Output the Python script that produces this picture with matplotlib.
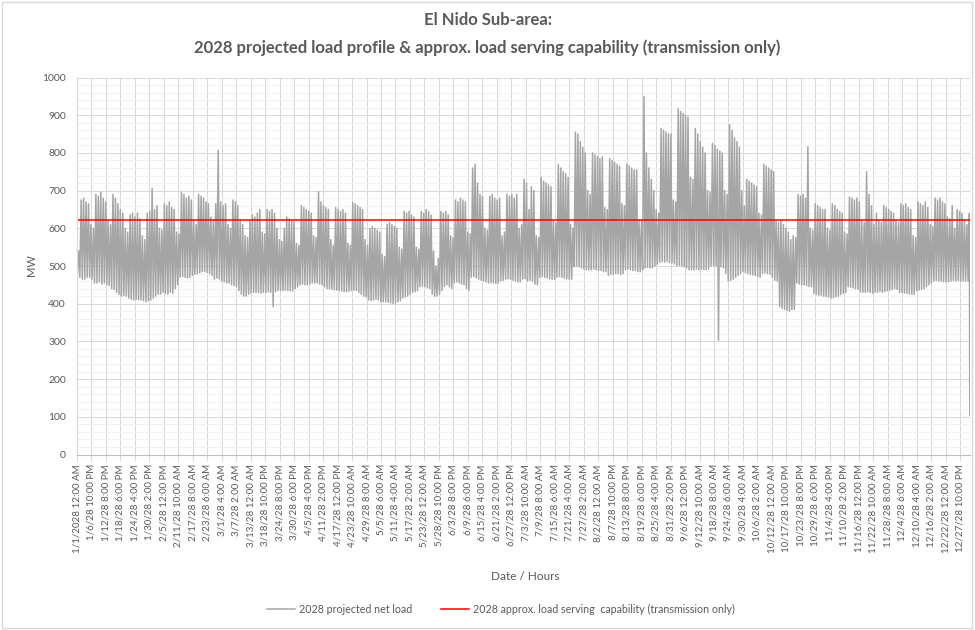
import matplotlib.pyplot as plt
import numpy as np
from matplotlib.patches import Rectangle
from matplotlib.ticker import MultipleLocator

plt.rcParams['font.family'] = ['Lato', 'DejaVu Sans']

# daily evening peak of the net load (MW), one row per week, Monday first
daily_peak = [
    540, 675, 680, 670, 665, 610, 600,
    690, 685, 695, 680, 670, 620, 610,
    690, 680, 665, 650, 640, 600, 590,
    635, 640, 630, 640, 625, 580, 570,
    640, 645, 706, 650, 660, 600, 595,
    665, 660, 670, 655, 650, 590, 585,
    695, 690, 680, 685, 675, 620, 610,
    690, 685, 680, 670, 665, 630, 620,
    665, 807, 670, 660, 665, 610, 600,
    675, 670, 660, 620, 610, 580, 575,
    620, 635, 630, 640, 650, 590, 585,
    650, 645, 650, 640, 600, 570, 565,
    600, 630, 625, 620, 618, 560, 555,
    660, 655, 650, 645, 640, 580, 575,
    697, 670, 660, 655, 650, 570, 555,
    655, 650, 645, 650, 640, 560, 555,
    668, 665, 660, 655, 650, 570, 555,
    600, 605, 600, 595, 590, 530, 525,
    610, 615, 610, 605, 600, 550, 545,
    645, 640, 645, 635, 630, 550, 545,
    645, 640, 650, 645, 635, 540, 500,
    520, 645, 640, 645, 635, 580, 575,
    675, 670, 680, 675, 670, 590, 585,
    760, 770, 720, 690, 685, 600, 595,
    685, 690, 680, 675, 680, 580, 590,
    690, 685, 690, 680, 690, 600, 610,
    730, 720, 650, 710, 700, 580, 575,
    735, 725, 720, 715, 710, 620, 615,
    770, 760, 750, 745, 735, 610, 600,
    855, 850, 830, 815, 800, 700, 690,
    800, 795, 790, 785, 790, 655, 650,
    785, 780, 775, 770, 765, 665, 660,
    770, 765, 760, 755, 755, 622, 620,
    949, 800, 760, 730, 700, 650, 640,
    865, 860, 855, 850, 850, 675, 670,
    917, 910, 905, 900, 895, 735, 730,
    865, 850, 830, 815, 800, 700, 695,
    825, 820, 810, 805, 800, 700, 690,
    875, 860, 840, 830, 815, 700, 659,
    730, 725, 720, 715, 710, 640, 635,
    770, 765, 760, 755, 750, 620, 615,
    620, 610, 600, 590, 570, 580, 575,
    690, 685, 690, 680, 816, 600, 595,
    665, 660, 655, 650, 650, 600, 595,
    665, 660, 650, 645, 640, 590, 585,
    683, 680, 675, 680, 670, 620, 615,
    750, 690, 660, 610, 640, 620, 615,
    660, 655, 650, 645, 640, 620, 615,
    665, 660, 665, 655, 650, 580, 575,
    670, 665, 660, 670, 655, 610, 605,
    680, 675, 680, 670, 665, 630, 625,
    660, 600, 650, 645, 640, 620, 610,
    640,
]

# daily early-morning minimum (MW)
daily_low = [
    480, 470, 465, 465, 470, 470, 465,
    455, 455, 458, 452, 455, 450, 448,
    440, 438, 430, 425, 420, 422, 420,
    415, 412, 410, 412, 410, 410, 408,
    405, 408, 410, 415, 420, 425, 425,
    430, 428, 425, 430, 428, 440, 450,
    470, 472, 470, 468, 470, 475, 478,
    480, 482, 485, 485, 483, 480, 475,
    465, 468, 465, 460, 458, 455, 455,
    450, 448, 445, 435, 425, 420, 420,
    425, 428, 430, 430, 430, 428, 430,
    430, 432, 430, 392, 432, 435, 435,
    435, 436, 435, 434, 434, 440, 445,
    450, 452, 450, 450, 452, 455, 455,
    455, 452, 450, 445, 440, 440, 438,
    437, 436, 435, 434, 432, 432, 433,
    435, 436, 435, 430, 425, 420, 418,
    410, 408, 410, 412, 410, 405, 405,
    405, 404, 402, 400, 402, 405, 408,
    415, 418, 420, 425, 430, 432, 435,
    445, 446, 445, 442, 440, 425, 420,
    420, 425, 435, 445, 450, 445, 440,
    455, 458, 455, 452, 450, 440, 435,
    470, 472, 468, 465, 462, 460, 458,
    455, 456, 455, 454, 455, 460, 462,
    465, 466, 465, 462, 460, 458, 458,
    465, 466, 460, 462, 460, 452, 450,
    470, 472, 470, 468, 466, 465, 465,
    470, 472, 470, 468, 466, 465, 465,
    498, 500, 498, 495, 492, 490, 490,
    490, 492, 490, 488, 488, 485, 485,
    475, 478, 478, 480, 480, 478, 480,
    490, 492, 490, 488, 488, 485, 485,
    490, 495, 497, 495, 495, 500, 505,
    510, 512, 510, 512, 510, 508, 505,
    500, 502, 500, 498, 495, 490, 490,
    490, 492, 490, 492, 490, 490, 492,
    500, 502, 500, 303, 498, 495, 480,
    460, 462, 465, 470, 475, 480, 485,
    482, 480, 478, 476, 475, 472, 470,
    480, 482, 480, 478, 470, 462, 460,
    392, 388, 385, 382, 380, 384, 385,
    455, 452, 450, 450, 448, 446, 445,
    427, 425, 423, 422, 420, 419, 418,
    415, 416, 418, 420, 424, 428, 430,
    445, 444, 442, 440, 438, 432, 430,
    430, 432, 430, 428, 430, 430, 432,
    430, 432, 434, 436, 438, 440, 438,
    430, 430, 428, 428, 426, 425, 425,
    435, 436, 438, 440, 445, 450, 455,
    460, 462, 460, 460, 458, 458, 458,
    460, 462, 460, 462, 460, 460, 460,
    460,
]

# last hours of the year
year_end_load = [104, 138, 112]

capability = 622

tick_labels = [
    "1/1/2028 12:00 AM", "1/6/28 10:00 PM", "1/12/28 8:00 PM", "1/18/28 6:00 PM",
    "1/24/28 4:00 PM", "1/30/28 2:00 PM", "2/5/28 12:00 PM", "2/11/28 10:00 AM",
    "2/17/28 8:00 AM", "2/23/28 6:00 AM", "3/1/28 4:00 AM", "3/7/28 2:00 AM",
    "3/13/28 12:00 AM", "3/18/28 10:00 PM", "3/24/28 8:00 PM", "3/30/28 6:00 PM",
    "4/5/28 4:00 PM", "4/11/28 2:00 PM", "4/17/28 12:00 PM", "4/23/28 10:00 AM",
    "4/29/28 8:00 AM", "5/5/28 6:00 AM", "5/11/28 4:00 AM", "5/17/28 2:00 AM",
    "5/23/28 12:00 AM", "5/28/28 10:00 PM", "6/3/28 8:00 PM", "6/9/28 6:00 PM",
    "6/15/28 4:00 PM", "6/21/28 2:00 PM", "6/27/28 12:00 PM", "7/3/28 10:00 AM",
    "7/9/28 8:00 AM", "7/15/28 6:00 AM", "7/21/28 4:00 AM", "7/27/28 2:00 AM",
    "8/2/28 12:00 AM", "8/7/28 10:00 PM", "8/13/28 8:00 PM", "8/19/28 6:00 PM",
    "8/25/28 4:00 PM", "8/31/28 2:00 PM", "9/6/28 12:00 PM", "9/12/28 10:00 AM",
    "9/18/28 8:00 AM", "9/24/28 6:00 AM", "9/30/28 4:00 AM", "10/6/28 2:00 AM",
    "10/12/28 12:00 AM", "10/17/28 10:00 PM", "10/23/28 8:00 PM", "10/29/28 6:00 PM",
    "11/4/28 4:00 PM", "11/10/28 2:00 PM", "11/16/28 12:00 PM", "11/22/28 10:00 AM",
    "11/28/28 8:00 AM", "12/4/28 6:00 AM", "12/10/28 4:00 AM", "12/16/28 2:00 AM",
    "12/22/28 12:00 AM", "12/27/28 10:00 PM",
]

# hourly index: low near 4 AM, peak near 5 PM, then the final hours
hours, load = [], []
for d, (lo, hi) in enumerate(zip(daily_low, daily_peak)):
    hours += [24 * d + 4, 24 * d + 17]
    load += [lo, hi]
n_hours = 24 * len(daily_peak)
hours += list(range(n_hours - len(year_end_load), n_hours))
load += year_end_load

W, H = 975, 630
fig = plt.figure(figsize=(W / 100, H / 100), dpi=100)
ax = fig.add_axes([77 / W, 1 - 454.5 / H, 893 / W, 377 / H])

ax.plot(hours, load, color='#A5A5A5', lw=1.1, label='2028 projected net load')
ax.axhline(capability, color='#FF0000', lw=1.1,
           label='2028 approx. load serving  capability (transmission only)')

ax.set_xlim(0, n_hours - 1)
ax.set_ylim(0, 1000)
ax.yaxis.set_major_locator(MultipleLocator(100))
ax.yaxis.set_minor_locator(MultipleLocator(20))
ax.set_xticks(np.arange(len(tick_labels)) * 142)
ax.set_xticklabels(tick_labels, rotation=90, fontsize=7, color='#595959')
ax.tick_params(axis='y', which='both', length=0, labelsize=7.5, labelcolor='#595959', pad=8)
ax.tick_params(axis='x', length=4, color='#D9D9D9', pad=3)

ax.grid(True, which='major', color='#D9D9D9', lw=0.75)
ax.grid(True, which='minor', axis='y', color='#F0F0F0', lw=0.6)
ax.set_axisbelow(True)
for s in ['top', 'right']:
    ax.spines[s].set_visible(False)
ax.spines['left'].set_color('#D9D9D9')
ax.spines['bottom'].set_color('#BFBFBF')

fig.text(0.5, 1 - 20 / H, 'El Nido Sub-area:', ha='center', va='center',
         fontsize=12, fontweight='bold', color='#595959')
fig.text(0.5, 1 - 48 / H,
         '2028 projected load profile & approx. load serving capability (transmission only)',
         ha='center', va='center', fontsize=12, fontweight='bold', color='#595959')
fig.text(32 / W, 1 - 265 / H, 'MW', rotation=90, ha='center', va='center',
         fontsize=8, color='#595959')
fig.text(525 / W, 1 - 576 / H, 'Date / Hours', ha='center', va='center',
         fontsize=8.5, color='#595959')

fig.legend(loc='center', bbox_to_anchor=(501 / W, 1 - 609 / H), ncol=2, frameon=False,
           fontsize=7.7, handlelength=2.6, handletextpad=0.4, columnspacing=2.7,
           labelcolor='#595959')

fig.patches.append(Rectangle((2 / W, 2 / H), 970 / W, 626 / H, transform=fig.transFigure,
                             fill=False, edgecolor='#D9D9D9', lw=1))

fig.savefig('out.png', dpi=100)
